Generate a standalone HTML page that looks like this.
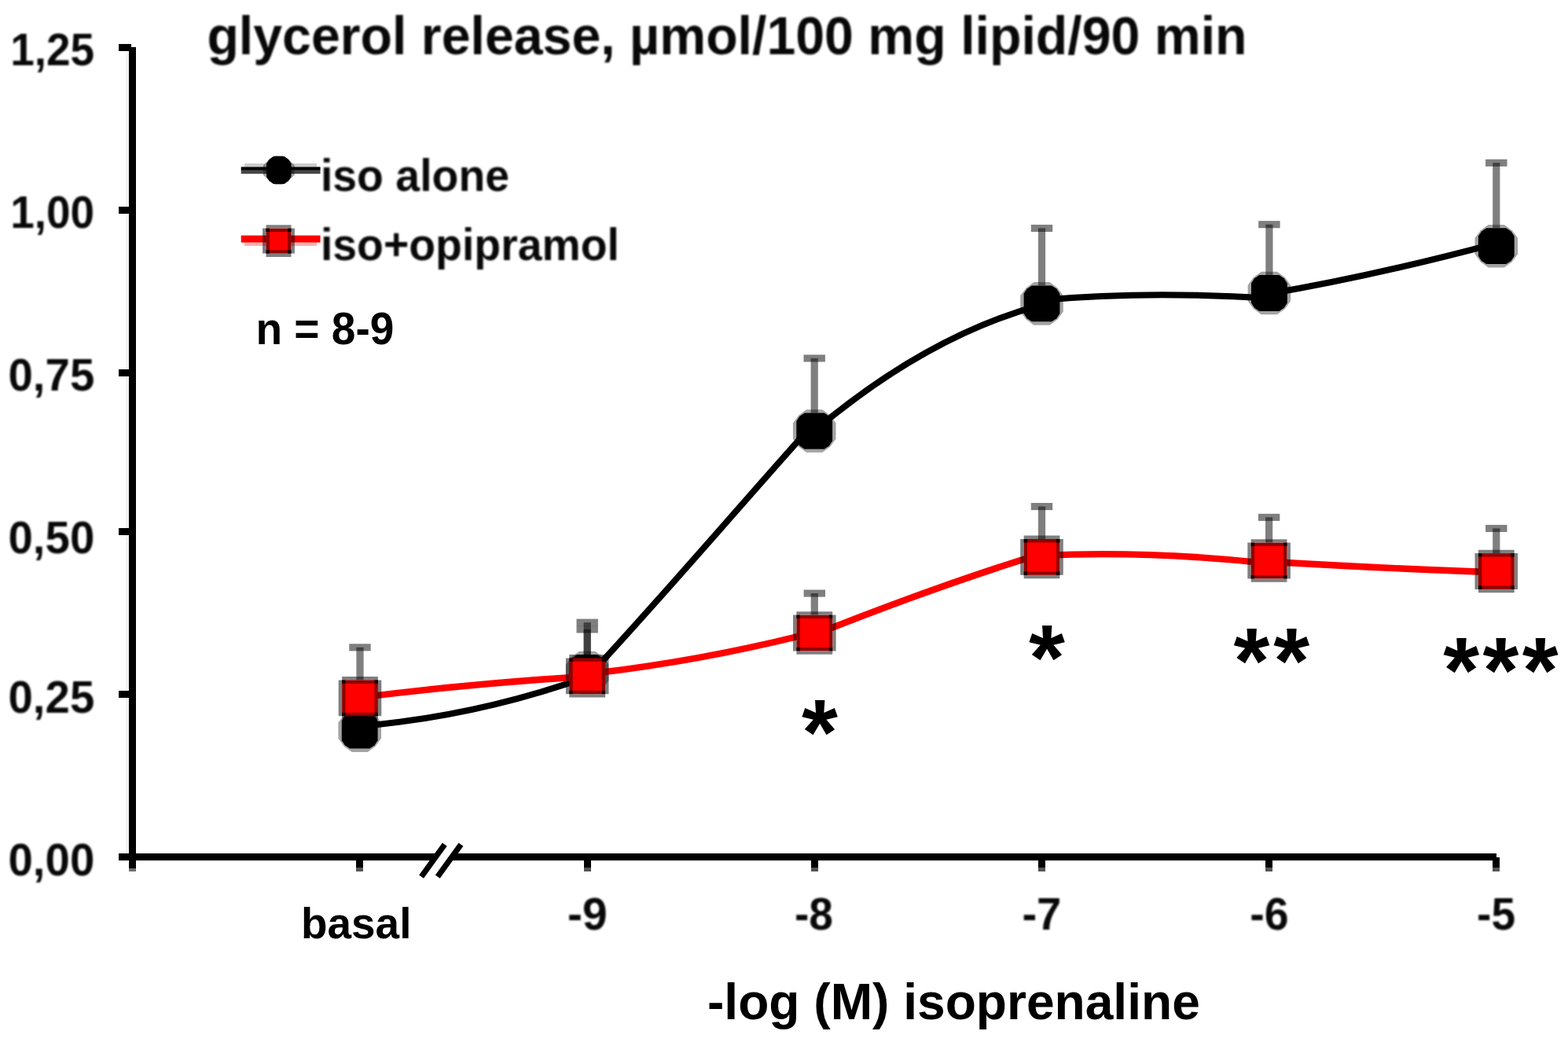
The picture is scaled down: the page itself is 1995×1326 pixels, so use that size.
<!DOCTYPE html>
<html lang="en">
<head>
<meta charset="utf-8">
<title>glycerol release</title>
<style>
html,body{margin:0;padding:0;background:#fff;}
body{width:1995px;height:1326px;overflow:hidden;}
svg{display:block;}
text{font-family:"Liberation Sans",sans-serif;font-weight:bold;fill:#000;}
.px text{fill:#080808;}
</style>
</head>
<body>
<svg width="1995" height="1326" viewBox="0 0 1995 1326">
<rect width="1995" height="1326" fill="#fff"/>
<defs><filter id="soft" filterUnits="userSpaceOnUse" x="0" y="0" width="1995" height="1326" color-interpolation-filters="sRGB"><feGaussianBlur stdDeviation="1.1"/></filter></defs>

<g id="axes" fill="#000" shape-rendering="crispEdges">
<rect x="159.8" y="64.6" width="4.4" height="1022" fill="#f1f1f1"/>
<rect x="164.2" y="60.2" width="9.1" height="1045"/>
<rect x="164.2" y="1105.2" width="9.1" height="3.7" fill="#707070"/>
<rect x="150.5" y="1086.3" width="1753.6" height="8.8"/>
<rect x="150.5" y="55.8" width="16" height="8.8"/>
<rect x="150.5" y="263.1" width="16" height="8.8"/>
<rect x="150.5" y="470.0" width="16" height="8.8"/>
<rect x="150.5" y="672.4" width="16" height="8.8"/>
<rect x="150.5" y="879.4" width="16" height="8.8"/>
<rect x="453.1" y="1095" width="9.2" height="9.4"/>
<rect x="453.1" y="1104.4" width="9.2" height="4.4" fill="#555"/>
<rect x="742.8" y="1095" width="9.2" height="9.4"/>
<rect x="742.8" y="1104.4" width="9.2" height="4.4" fill="#555"/>
<rect x="1031.9" y="1095" width="9.2" height="9.4"/>
<rect x="1031.9" y="1104.4" width="9.2" height="4.4" fill="#555"/>
<rect x="1320.8" y="1095" width="9.2" height="9.4"/>
<rect x="1320.8" y="1104.4" width="9.2" height="4.4" fill="#555"/>
<rect x="1609.8" y="1095" width="9.2" height="9.4"/>
<rect x="1609.8" y="1104.4" width="9.2" height="4.4" fill="#555"/>
<rect x="1899.2" y="1090.7" width="9.2" height="13.7"/>
<rect x="1899.2" y="1104.4" width="9.2" height="4.4" fill="#555"/>
</g>
<g id="axis-break">
<polygon points="536.1,1115.7 556.8,1115.7 586.5,1074.6 565.8,1074.6" fill="#fff"/>
<line x1="536.1" y1="1115.7" x2="565.8" y2="1074.6" stroke="#000" stroke-width="7.2"/>
<line x1="556.8" y1="1115.7" x2="586.5" y2="1074.6" stroke="#000" stroke-width="7.2"/>
</g>
<g id="series-iso-alone">
<g fill="#000" fill-opacity="0.5">
<rect x="733.5" y="787.6" width="27.4" height="9.1"/><rect x="742.6" y="792.1" width="9.2" height="40.9"/>
<rect x="1022.5" y="451.4" width="27.4" height="9.1"/><rect x="1031.6" y="455.9" width="9.2" height="69.6"/>
<rect x="1311.8" y="285.9" width="27.4" height="9.1"/><rect x="1320.9" y="290.4" width="9.2" height="73.0"/>
<rect x="1601.2" y="281.1" width="27.4" height="9.1"/><rect x="1610.3" y="285.6" width="9.2" height="64.4"/>
<rect x="1890.1" y="202.7" width="27.4" height="9.1"/><rect x="1899.2" y="207.2" width="9.2" height="83.0"/>
</g>
<path d="M457.7 924.2C554.2 915.9 650.8 895.7 747.3 861.2L747.3 862.2C843.7 758.5 940.0 645.1 1036.4 537.6L1036.4 548.0C1132.8 467.0 1229.1 413.6 1325.5 387.9L1325.5 381.9C1421.9 373.0 1518.3 373.5 1614.7 379.6L1614.7 373.8C1711.1 357.3 1807.4 335.3 1903.8 309.6" fill="none" stroke="#000" stroke-width="8" stroke-linejoin="round"/>
<polygon points="467.8,902.4 477.7,909.7 485.0,919.6 485.0,939.8 477.7,949.7 467.8,957.0 447.6,957.0 437.7,949.7 430.4,939.8 430.4,919.6 437.7,909.7 447.6,902.4" fill="#000" fill-opacity="0.36"/><polygon points="470.3,906.8 476.5,910.9 480.6,917.1 480.6,942.3 476.5,948.5 470.3,952.6 445.1,952.6 438.9,948.5 434.8,942.3 434.8,917.1 438.9,910.9 445.1,906.8" fill="#000"/>
<polygon points="757.3,828.7 767.2,836.0 774.5,845.9 774.5,866.1 767.2,876.0 757.3,883.3 737.1,883.3 727.2,876.0 719.9,866.1 719.9,845.9 727.2,836.0 737.1,828.7" fill="#000" fill-opacity="0.36"/><polygon points="759.8,833.1 766.0,837.2 770.1,843.4 770.1,868.6 766.0,874.8 759.8,878.9 734.6,878.9 728.4,874.8 724.3,868.6 724.3,843.4 728.4,837.2 734.6,833.1" fill="#000"/>
<polygon points="1046.3,521.2 1056.2,528.5 1063.5,538.4 1063.5,558.6 1056.2,568.5 1046.3,575.8 1026.1,575.8 1016.2,568.5 1008.9,558.6 1008.9,538.4 1016.2,528.5 1026.1,521.2" fill="#000" fill-opacity="0.36"/><polygon points="1048.8,525.6 1055.0,529.7 1059.1,535.9 1059.1,561.1 1055.0,567.3 1048.8,571.4 1023.6,571.4 1017.4,567.3 1013.3,561.1 1013.3,535.9 1017.4,529.7 1023.6,525.6" fill="#000"/>
<polygon points="1335.6,359.1 1345.5,366.4 1352.8,376.3 1352.8,396.5 1345.5,406.4 1335.6,413.7 1315.4,413.7 1305.5,406.4 1298.2,396.5 1298.2,376.3 1305.5,366.4 1315.4,359.1" fill="#000" fill-opacity="0.36"/><polygon points="1338.1,363.5 1344.3,367.6 1348.4,373.8 1348.4,399.0 1344.3,405.2 1338.1,409.3 1312.9,409.3 1306.7,405.2 1302.6,399.0 1302.6,373.8 1306.7,367.6 1312.9,363.5" fill="#000"/>
<polygon points="1625.0,345.7 1634.9,353.0 1642.2,362.9 1642.2,383.1 1634.9,393.0 1625.0,400.3 1604.8,400.3 1594.9,393.0 1587.6,383.1 1587.6,362.9 1594.9,353.0 1604.8,345.7" fill="#000" fill-opacity="0.36"/><polygon points="1627.5,350.1 1633.7,354.2 1637.8,360.4 1637.8,385.6 1633.7,391.8 1627.5,395.9 1602.3,395.9 1596.1,391.8 1592.0,385.6 1592.0,360.4 1596.1,354.2 1602.3,350.1" fill="#000"/>
<polygon points="1913.9,285.9 1923.8,293.2 1931.1,303.1 1931.1,323.3 1923.8,333.2 1913.9,340.5 1893.7,340.5 1883.8,333.2 1876.5,323.3 1876.5,303.1 1883.8,293.2 1893.7,285.9" fill="#000" fill-opacity="0.36"/><polygon points="1916.4,290.3 1922.6,294.4 1926.7,300.6 1926.7,325.8 1922.6,332.0 1916.4,336.1 1891.2,336.1 1885.0,332.0 1880.9,325.8 1880.9,300.6 1885.0,294.4 1891.2,290.3" fill="#000"/>
</g>
<g id="series-iso-opipramol">
<g fill="#000" fill-opacity="0.5">
<rect x="444.3" y="819.3" width="27.4" height="9.1"/><rect x="453.4" y="823.8" width="9.2" height="41.6"/>
<rect x="733.5" y="796.4" width="27.4" height="9.1"/><rect x="742.6" y="800.9" width="9.2" height="36.5"/>
<rect x="1022.6" y="750.5" width="27.4" height="9.1"/><rect x="1031.7" y="755.0" width="9.2" height="27.6"/>
<rect x="1311.8" y="640.0" width="27.4" height="9.1"/><rect x="1320.9" y="644.5" width="9.2" height="41.5"/>
<rect x="1600.9" y="653.8" width="27.4" height="9.1"/><rect x="1610.0" y="658.3" width="9.2" height="32.3"/>
<rect x="1890.1" y="667.9" width="27.4" height="9.1"/><rect x="1899.2" y="672.4" width="9.2" height="31.7"/>
</g>
<path d="M457.7 887.7C554.2 875.4 650.8 866.7 747.3 860.8L747.3 857.7C843.7 846.9 940.0 829.2 1036.4 804.6L1036.4 807.6C1132.8 769.3 1229.1 734.2 1325.5 704.4L1325.5 706.9C1421.9 702.3 1518.3 706.6 1614.7 717.1L1614.7 714.7C1711.1 720.3 1807.4 725.1 1903.8 728.3" fill="none" stroke="#ff0000" stroke-width="8.4" stroke-linejoin="round"/>
<path fill="#000" fill-opacity="0.5" d="M435.1 861.0h45.8v4.4h-45.8zM435.1 911.2h45.8v4.4h-45.8zM430.7 865.4h4.4v45.8h-4.4zM480.9 865.4h4.4v45.8h-4.4z"/><rect x="435.1" y="865.4" width="45.8" height="45.8" fill="#900000"/><rect x="435.1" y="865.4" width="4.4" height="4.4" fill="#0a0000"/><rect x="435.1" y="906.8" width="4.4" height="4.4" fill="#0a0000"/><rect x="476.5" y="865.4" width="4.4" height="4.4" fill="#0a0000"/><rect x="476.5" y="906.8" width="4.4" height="4.4" fill="#0a0000"/><rect x="439.5" y="869.8" width="37.0" height="37.0" fill="#ff0000"/>
<path fill="#000" fill-opacity="0.5" d="M724.3 833.0h45.8v4.4h-45.8zM724.3 883.2h45.8v4.4h-45.8zM719.9 837.4h4.4v45.8h-4.4zM770.1 837.4h4.4v45.8h-4.4z"/><rect x="724.3" y="837.4" width="45.8" height="45.8" fill="#900000"/><rect x="724.3" y="837.4" width="4.4" height="4.4" fill="#0a0000"/><rect x="724.3" y="878.8" width="4.4" height="4.4" fill="#0a0000"/><rect x="765.7" y="837.4" width="4.4" height="4.4" fill="#0a0000"/><rect x="765.7" y="878.8" width="4.4" height="4.4" fill="#0a0000"/><rect x="728.7" y="841.8" width="37.0" height="37.0" fill="#ff0000"/>
<path fill="#000" fill-opacity="0.5" d="M1013.4 778.2h45.8v4.4h-45.8zM1013.4 828.4h45.8v4.4h-45.8zM1009.0 782.6h4.4v45.8h-4.4zM1059.2 782.6h4.4v45.8h-4.4z"/><rect x="1013.4" y="782.6" width="45.8" height="45.8" fill="#900000"/><rect x="1013.4" y="782.6" width="4.4" height="4.4" fill="#0a0000"/><rect x="1013.4" y="824.0" width="4.4" height="4.4" fill="#0a0000"/><rect x="1054.8" y="782.6" width="4.4" height="4.4" fill="#0a0000"/><rect x="1054.8" y="824.0" width="4.4" height="4.4" fill="#0a0000"/><rect x="1017.8" y="787.0" width="37.0" height="37.0" fill="#ff0000"/>
<path fill="#000" fill-opacity="0.5" d="M1302.6 681.6h45.8v4.4h-45.8zM1302.6 731.8h45.8v4.4h-45.8zM1298.2 686.0h4.4v45.8h-4.4zM1348.4 686.0h4.4v45.8h-4.4z"/><rect x="1302.6" y="686.0" width="45.8" height="45.8" fill="#900000"/><rect x="1302.6" y="686.0" width="4.4" height="4.4" fill="#0a0000"/><rect x="1302.6" y="727.4" width="4.4" height="4.4" fill="#0a0000"/><rect x="1344.0" y="686.0" width="4.4" height="4.4" fill="#0a0000"/><rect x="1344.0" y="727.4" width="4.4" height="4.4" fill="#0a0000"/><rect x="1307.0" y="690.4" width="37.0" height="37.0" fill="#ff0000"/>
<path fill="#000" fill-opacity="0.5" d="M1591.7 686.2h45.8v4.4h-45.8zM1591.7 736.4h45.8v4.4h-45.8zM1587.3 690.6h4.4v45.8h-4.4zM1637.5 690.6h4.4v45.8h-4.4z"/><rect x="1591.7" y="690.6" width="45.8" height="45.8" fill="#900000"/><rect x="1591.7" y="690.6" width="4.4" height="4.4" fill="#0a0000"/><rect x="1591.7" y="732.0" width="4.4" height="4.4" fill="#0a0000"/><rect x="1633.1" y="690.6" width="4.4" height="4.4" fill="#0a0000"/><rect x="1633.1" y="732.0" width="4.4" height="4.4" fill="#0a0000"/><rect x="1596.1" y="695.0" width="37.0" height="37.0" fill="#ff0000"/>
<path fill="#000" fill-opacity="0.5" d="M1880.9 699.7h45.8v4.4h-45.8zM1880.9 749.9h45.8v4.4h-45.8zM1876.5 704.1h4.4v45.8h-4.4zM1926.7 704.1h4.4v45.8h-4.4z"/><rect x="1880.9" y="704.1" width="45.8" height="45.8" fill="#900000"/><rect x="1880.9" y="704.1" width="4.4" height="4.4" fill="#0a0000"/><rect x="1880.9" y="745.5" width="4.4" height="4.4" fill="#0a0000"/><rect x="1922.3" y="704.1" width="4.4" height="4.4" fill="#0a0000"/><rect x="1922.3" y="745.5" width="4.4" height="4.4" fill="#0a0000"/><rect x="1885.3" y="708.5" width="37.0" height="37.0" fill="#ff0000"/>
</g>
<g id="legend">
<rect x="311" y="208" width="92.2" height="4.4" fill="#000" fill-opacity="0.2"/>
<rect x="306.7" y="212.4" width="100.9" height="4.4" fill="#000"/>
<rect x="306.7" y="216.8" width="100.9" height="4.4" fill="#000" fill-opacity="0.72"/>
<polygon points="359.3,198.1 367.9,203.4 374.7,210.5 374.7,222.5 367.9,229.6 359.3,234.9 350.3,234.9 341.7,229.6 334.9,222.5 334.9,210.5 341.7,203.4 350.3,198.1" fill="#000" fill-opacity="0.36"/><polygon points="361.8,199.1 366.9,202.8 370.5,208.0 370.5,225.0 366.9,230.2 361.8,233.9 347.8,233.9 342.7,230.2 339.1,225.0 339.1,208.0 342.7,202.8 347.8,199.1" fill="#000"/>
<rect x="306.7" y="299.6" width="100.9" height="9" fill="#ff0000"/>
<rect x="311" y="308.6" width="92.2" height="4.4" fill="#ff0000" fill-opacity="0.3"/>
<path fill="#000" fill-opacity="0.5" d="M338.5 286.2h32.0v4.4h-32.0zM338.5 322.6h32.0v4.4h-32.0zM334.1 290.6h4.4v32.0h-4.4zM370.5 290.6h4.4v32.0h-4.4z"/><rect x="338.5" y="290.6" width="32.0" height="32.0" fill="#900000"/><rect x="338.5" y="290.6" width="4.4" height="4.4" fill="#0a0000"/><rect x="338.5" y="318.2" width="4.4" height="4.4" fill="#0a0000"/><rect x="366.1" y="290.6" width="4.4" height="4.4" fill="#0a0000"/><rect x="366.1" y="318.2" width="4.4" height="4.4" fill="#0a0000"/><rect x="342.9" y="295.0" width="23.2" height="23.2" fill="#ff0000"/>
</g>
<g id="chart-labels" class="px" filter="url(#soft)">
<text x="263.4" y="68.8" font-size="68" textLength="1323.2" lengthAdjust="spacingAndGlyphs">glycerol release, µmol/100 mg lipid/90 min</text>
<text x="13.2" y="83.2" font-size="58" textLength="107.0" lengthAdjust="spacingAndGlyphs">1,25</text>
<text x="13.2" y="290.3" font-size="58" textLength="107.0" lengthAdjust="spacingAndGlyphs">1,00</text>
<text x="10.5" y="496.8" font-size="58" textLength="109.8" lengthAdjust="spacingAndGlyphs">0,75</text>
<text x="10.5" y="703.8" font-size="58" textLength="109.8" lengthAdjust="spacingAndGlyphs">0,50</text>
<text x="10.5" y="906.5" font-size="58" textLength="109.8" lengthAdjust="spacingAndGlyphs">0,25</text>
<text x="10.5" y="1113.8" font-size="58" textLength="109.8" lengthAdjust="spacingAndGlyphs">0,00</text>
<text x="722.0" y="1182.7" font-size="58" textLength="50.7" lengthAdjust="spacingAndGlyphs">-9</text>
<text x="1010.9" y="1182.7" font-size="58" textLength="49.0" lengthAdjust="spacingAndGlyphs">-8</text>
<text x="1300.4" y="1182.7" font-size="58" textLength="50.0" lengthAdjust="spacingAndGlyphs">-7</text>
<text x="1590.3" y="1182.7" font-size="58" textLength="49.3" lengthAdjust="spacingAndGlyphs">-6</text>
<text x="1879.1" y="1182.7" font-size="58" textLength="49.0" lengthAdjust="spacingAndGlyphs">-5</text>
<text x="407.9" y="243.3" font-size="57" textLength="240.2" lengthAdjust="spacingAndGlyphs">iso alone</text>
<text x="407.9" y="331.4" font-size="57" textLength="380.1" lengthAdjust="spacingAndGlyphs">iso+opipramol</text>
</g>
<g id="annotations">
<text x="383.0" y="1194.2" font-size="55" textLength="140.4" lengthAdjust="spacingAndGlyphs">basal</text>
<text x="900.0" y="1297.0" font-size="64" textLength="626.8" lengthAdjust="spacingAndGlyphs">-log (M) isoprenaline</text>
<text x="325.4" y="438.0" font-size="57" textLength="176.0" lengthAdjust="spacingAndGlyphs">n = 8-9</text>
<text x="1020.0" y="973.1" font-size="118">*</text>
<text x="1309.0" y="877.8" font-size="118">*</text>
<text x="1569.4" y="881.9" font-size="118" letter-spacing="5.0">**</text>
<text x="1836.3" y="894.0" font-size="118" letter-spacing="4.3">***</text>
</g>
</svg>
</body>
</html>
